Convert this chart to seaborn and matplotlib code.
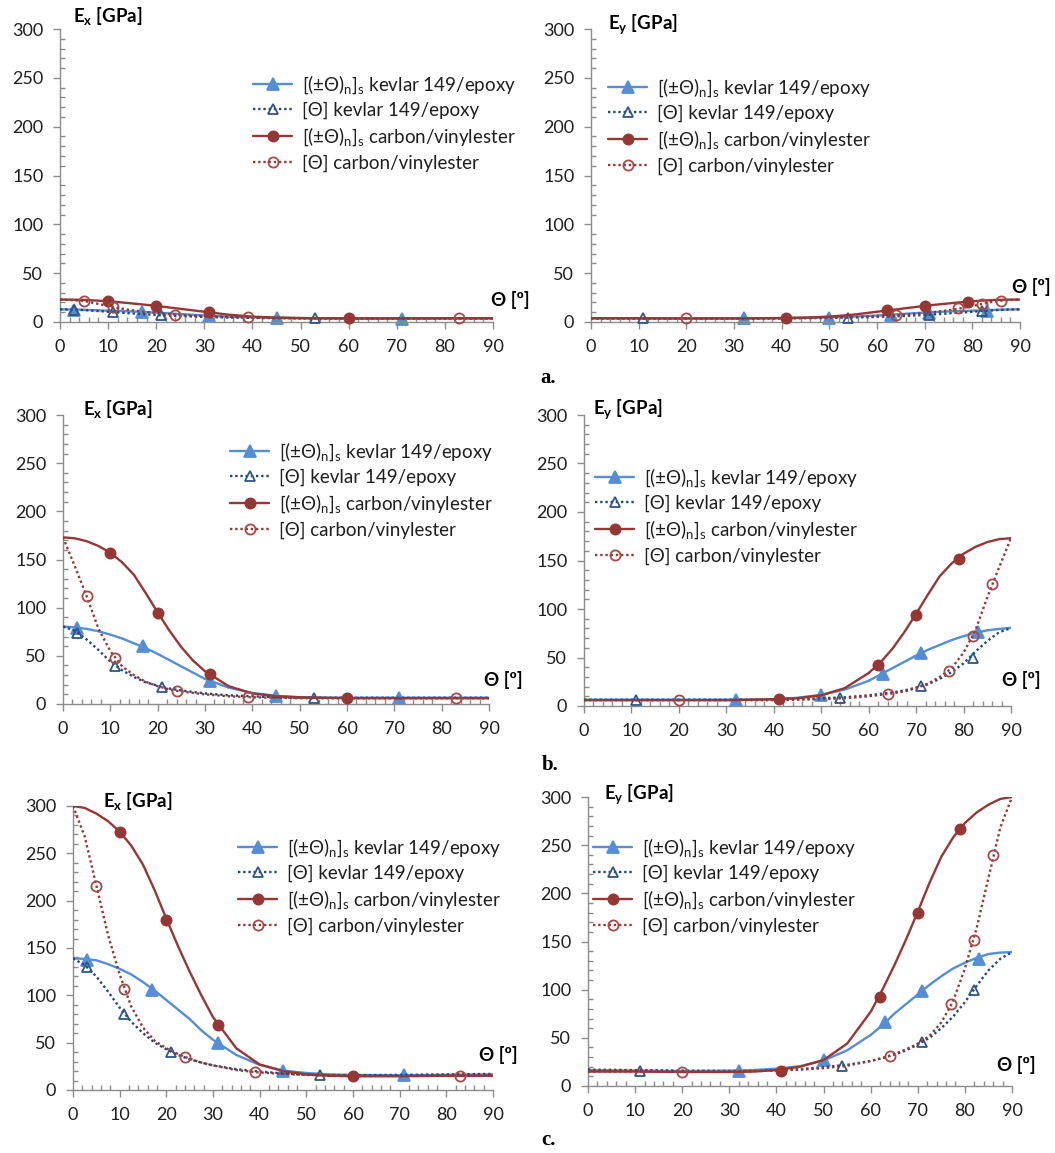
import matplotlib
matplotlib.use("Agg")
import matplotlib.pyplot as plt
import seaborn as sns
import pandas as pd
from matplotlib.lines import Line2D
from matplotlib.ticker import MultipleLocator

# ---------------- data ----------------
theta_x = [0, 2.5, 5, 7.5, 10, 12.5, 15, 17.5, 20, 22.5, 25, 27.5, 30, 35, 40, 45, 50, 55, 60, 70, 80, 90]
theta_y = [0, 10, 20, 30, 35, 40, 45, 50, 55, 60, 62.5, 65, 67.5, 70, 72.5, 75, 77.5, 80, 82.5, 85, 87.5, 90]

# row a  (Ex)
a_ex_kev_pm = [13, 12.8, 12.5, 12, 11.6, 11.2, 10.8, 10.3, 9.6, 8.9, 8.1, 7.4, 6.7, 5.5, 4.8, 4.3, 4, 3.8, 3.7, 3.6, 3.7, 3.8]
a_ex_kev_th = [13, 12.7, 12.2, 11.4, 10.5, 9.6, 8.8, 8, 7.2, 6.6, 6, 5.6, 5.2, 4.6, 4.2, 3.9, 3.7, 3.6, 3.6, 3.6, 3.7, 3.8]
a_ex_car_pm = [23, 22.9, 22.6, 22, 21.3, 20.2, 19, 17.8, 16.5, 15, 13.5, 12, 10.5, 7.5, 5.5, 4.5, 4, 3.8, 3.7, 3.7, 3.8, 3.9]
a_ex_car_th = [23, 22.4, 21.5, 19, 16.3, 14, 12, 10.5, 9.2, 8.2, 7.4, 6.6, 6, 5.2, 4.7, 4.3, 4, 3.9, 3.8, 3.7, 3.7, 3.7]
# row a  (Ey)
a_ey_kev_pm = [3.8, 3.7, 3.6, 3.7, 3.8, 4, 4.3, 4.8, 5.5, 6.7, 7.4, 8.1, 8.9, 9.6, 10.3, 10.8, 11.2, 11.6, 12, 12.5, 12.8, 13]
a_ey_kev_th = [3.8, 3.7, 3.6, 3.6, 3.6, 3.7, 3.9, 4.2, 4.6, 5.2, 5.6, 6, 6.6, 7.2, 8, 8.8, 9.6, 10.5, 11.4, 12.2, 12.7, 13]
a_ey_car_pm = [3.9, 3.8, 3.7, 3.7, 3.8, 4, 4.5, 5.5, 7.5, 10.5, 12, 13.5, 15, 16.5, 17.8, 19, 20.2, 21.3, 22, 22.6, 22.9, 23]
a_ey_car_th = [3.7, 3.7, 3.7, 3.8, 3.9, 4, 4.3, 4.7, 5.2, 6, 6.6, 7.4, 8.2, 9.2, 10.5, 12, 14, 16.3, 19, 21.5, 22.4, 23]

# row b  (Ex)
b_ex_kev_pm = [80.5, 79.5, 78, 75.5, 72, 68, 63, 58, 52, 45.5, 39, 32.5, 26, 17, 11.5, 8.5, 7, 6.5, 6.5, 6.5, 6.5, 6.5]
b_ex_kev_th = [80.5, 76, 67, 56, 44, 35, 28, 22.5, 19, 16, 14, 12.5, 11, 9, 8, 7, 6.5, 6.5, 6.5, 6.5, 6.5, 6.5]
b_ex_car_pm = [173, 172, 169, 164, 157, 147, 134, 115, 95, 76, 59, 45, 34, 18.5, 11, 8, 7, 6.5, 6, 6, 6, 6]
b_ex_car_th = [173, 143, 112, 78, 55, 39, 30, 23, 18.5, 15, 13, 11.5, 10, 8, 7, 6.5, 6, 6, 6, 6, 6, 6]
# row b  (Ey)
b_ey_kev_pm = [6.5, 6.5, 6.5, 6.5, 6.5, 7, 8.5, 11.5, 17, 26, 32.5, 39, 45.5, 52, 58, 63, 68, 72, 75.5, 78, 79.5, 80.5]
b_ey_kev_th = [6.5, 6.5, 6.5, 6.5, 6.5, 6.5, 7, 8, 9, 11, 12.5, 14, 16, 19, 22.5, 28, 35, 44, 56, 67, 76, 80.5]
b_ey_car_pm = [6, 6, 6, 6, 6.5, 7, 8, 11, 18.5, 34, 45, 59, 76, 95, 115, 134, 147, 157, 164, 169, 172, 173]
b_ey_car_th = [6, 6, 6, 6, 6, 6, 6.5, 7, 8, 10, 11.5, 13, 15, 18.5, 23, 30, 39, 55, 78, 112, 143, 173]

# row c  (Ex)
c_ex_kev_pm = [139, 138.5, 137, 133, 128, 122, 114, 105, 95, 85, 75, 63, 53, 37, 26.5, 20.5, 18, 16.5, 16, 15.5, 16, 16.5]
c_ex_kev_th = [139, 132, 120, 104, 87, 72, 60, 50, 43, 37, 32.5, 29, 26, 22, 19.5, 17.5, 16, 15.5, 15.5, 16, 16.5, 17]
c_ex_car_pm = [300, 298, 292, 284, 273, 258, 238, 211, 181, 152, 125, 100, 77, 44, 27, 20, 16.5, 15, 14.5, 14.5, 15, 15]
c_ex_car_th = [300, 268, 216, 164, 122, 88, 66, 52, 44, 38, 33, 29, 26, 21, 18.5, 17, 16, 15.5, 15, 15, 15, 15]
# row c  (Ey)
c_ey_kev_pm = [16.5, 16, 15.5, 16, 16.5, 18, 20.5, 26.5, 37, 53, 63, 75, 85, 95, 105, 114, 122, 128, 133, 137, 138.5, 139]
c_ey_kev_th = [17, 16.5, 16, 15.5, 15.5, 16, 17.5, 19.5, 22, 26, 29, 32.5, 37, 43, 50, 60, 72, 87, 104, 120, 132, 139]
c_ey_car_pm = [15, 15, 14.5, 14.5, 15, 16.5, 20, 27, 44, 77, 100, 125, 152, 181, 211, 238, 258, 273, 284, 292, 298, 300]
c_ey_car_th = [15, 15, 15, 15, 15.5, 16, 17, 18.5, 21, 26, 29, 33, 38, 44, 52, 66, 88, 122, 164, 216, 268, 300]

# marker angles
mx_left_kev_pm = [3, 17, 31, 45, 71]
mx_left_kev_th = [3, 11, 21, 53]
mx_left_car_pm = [10, 20, 31, 60]
mx_left_car_th = [5, 11, 24, 39, 83]
mx_right_kev_pm = [32, 50, 63, 71, 83]
mx_right_kev_th = [11, 54, 71, 82]
mx_right_car_pm = [41, 62, 70, 79]
mx_right_car_th = [20, 64, 77, 82, 86]

# marker values
a_ex_mk_kev_pm = [12.6, 10.5, 6.5, 4.4, 3.4]
a_ex_mk_kev_th = [12.4, 10.1, 7.0, 3.6]
a_ex_mk_car_pm = [21.3, 16.5, 10.0, 3.7]
a_ex_mk_car_th = [21.5, 15.5, 7.6, 4.8, 3.7]
a_ey_mk_kev_pm = [3.6, 4.4, 6.8, 8.9, 11.6]
a_ey_mk_kev_th = [3.6, 3.8, 7.2, 10.9]
a_ey_mk_car_pm = [3.7, 12.0, 16.4, 20.5]
a_ey_mk_car_th = [3.7, 7.5, 14.0, 18.0, 21.8]

b_ex_mk_kev_pm = [79, 60, 24, 8.5, 6.5]
b_ex_mk_kev_th = [74, 39, 17.5, 6.5]
b_ex_mk_car_pm = [157, 94, 31, 6]
b_ex_mk_car_th = [112, 47.5, 13.5, 7, 6]
b_ey_mk_kev_pm = [6.5, 11.5, 33, 55, 76]
b_ey_mk_kev_th = [6.5, 8, 20.5, 50]
b_ey_mk_car_pm = [7, 42, 94, 152]
b_ey_mk_car_th = [6, 12.5, 36, 72, 126]

c_ex_mk_kev_pm = [137, 106, 50, 20.5, 15.5]
c_ex_mk_kev_th = [130, 80, 40.5, 15.5]
c_ex_mk_car_pm = [273, 180, 69, 14.5]
c_ex_mk_car_th = [216, 107, 35, 18.5, 15]
c_ey_mk_kev_pm = [16, 27, 66, 99, 132]
c_ey_mk_kev_th = [16, 21, 46, 100]
c_ey_mk_car_pm = [16, 92, 180, 267]
c_ey_mk_car_th = [15, 31, 85, 152, 240]

series_labels = [
    r"[(±Θ)$_{\rm n}$]$_{\rm s}$ kevlar 149/epoxy",
    r"[Θ] kevlar 149/epoxy",
    r"[(±Θ)$_{\rm n}$]$_{\rm s}$ carbon/vinylester",
    r"[Θ] carbon/vinylester",
]
y_ticks = [0, 50, 100, 150, 200, 250, 300]
x_ticks = [0, 10, 20, 30, 40, 50, 60, 70, 80, 90]
panel_letters = ["a.", "b.", "c."]

# ---------------- style ----------------
sns.set_theme(style="white")
plt.rcParams["font.family"] = ["Lato", "DejaVu Sans"]
plt.rcParams["mathtext.fontset"] = "custom"
plt.rcParams["mathtext.rm"] = "Lato"
plt.rcParams["mathtext.it"] = "Lato:italic"
plt.rcParams["mathtext.bf"] = "Lato:bold"

W, H = 1055, 1153
fig = plt.figure(figsize=(W / 100, H / 100), dpi=100)
fig.patch.set_facecolor("white")

AX_GRAY = "#8C8C8C"
TXT = "#1E1E1E"
FS = 13
LFS = 13.5

styles = [
    dict(color="#558ED5", ls="-", lw=1.7, marker="^", ms=9, mfc="#558ED5", mec="#558ED5"),
    dict(color="#1F497D", ls=(0, (1, 1.2)), lw=1.7, marker="^", ms=7.5, mfc="none", mec="#2E5686"),
    dict(color="#953735", ls="-", lw=1.7, marker="o", ms=7.3, mfc="#953735", mec="#953735"),
    dict(color="#953735", ls=(0, (1, 1.2)), lw=1.7, marker="o", ms=7.3, mfc="none", mec="#A54A48"),
]

# pixel boxes: (left, right, top, bottom)
boxes = {
    ("a", "x"): (60, 493, 29, 322),
    ("a", "y"): (591, 1020, 29, 322),
    ("b", "x"): (63, 489, 415, 704),
    ("b", "y"): (584, 1011, 415, 706),
    ("c", "x"): (73, 493, 806, 1090),
    ("c", "y"): (588, 1012, 797, 1086),
}
title_pos = {
    ("a", "x"): (0.030, 1.045), ("a", "y"): (0.040, 1.016),
    ("b", "x"): (0.047, 1.020), ("b", "y"): (0.021, 1.020),
    ("c", "x"): (0.071, 1.016), ("c", "y"): (0.038, 1.010),
}
theta_pos = {
    ("a", "x"): (1.040, 0.075), ("a", "y"): (1.026, 0.119),
    ("b", "x"): (1.033, 0.083), ("b", "y"): (1.023, 0.089),
    ("c", "x"): (1.012, 0.123), ("c", "y"): (1.009, 0.073),
}
legend_pos = {
    ("a", "x"): (253, 73), ("a", "y"): (608, 76),
    ("b", "x"): (230, 440), ("b", "y"): (595, 466),
    ("c", "x"): (238, 836), ("c", "y"): (593, 836),
}

data = {
    ("a", "x"): ([a_ex_kev_pm, a_ex_kev_th, a_ex_car_pm, a_ex_car_th],
                 [a_ex_mk_kev_pm, a_ex_mk_kev_th, a_ex_mk_car_pm, a_ex_mk_car_th]),
    ("a", "y"): ([a_ey_kev_pm, a_ey_kev_th, a_ey_car_pm, a_ey_car_th],
                 [a_ey_mk_kev_pm, a_ey_mk_kev_th, a_ey_mk_car_pm, a_ey_mk_car_th]),
    ("b", "x"): ([b_ex_kev_pm, b_ex_kev_th, b_ex_car_pm, b_ex_car_th],
                 [b_ex_mk_kev_pm, b_ex_mk_kev_th, b_ex_mk_car_pm, b_ex_mk_car_th]),
    ("b", "y"): ([b_ey_kev_pm, b_ey_kev_th, b_ey_car_pm, b_ey_car_th],
                 [b_ey_mk_kev_pm, b_ey_mk_kev_th, b_ey_mk_car_pm, b_ey_mk_car_th]),
    ("c", "x"): ([c_ex_kev_pm, c_ex_kev_th, c_ex_car_pm, c_ex_car_th],
                 [c_ex_mk_kev_pm, c_ex_mk_kev_th, c_ex_mk_car_pm, c_ex_mk_car_th]),
    ("c", "y"): ([c_ey_kev_pm, c_ey_kev_th, c_ey_car_pm, c_ey_car_th],
                 [c_ey_mk_kev_pm, c_ey_mk_kev_th, c_ey_mk_car_pm, c_ey_mk_car_th]),
}
mk_x = {
    "x": [mx_left_kev_pm, mx_left_kev_th, mx_left_car_pm, mx_left_car_th],
    "y": [mx_right_kev_pm, mx_right_kev_th, mx_right_car_pm, mx_right_car_th],
}

for row in ["a", "b", "c"]:
    for comp in ["x", "y"]:
        l, r, t, b = boxes[(row, comp)]
        ax = fig.add_axes([l / W, 1 - b / H, (r - l) / W, (b - t) / H])
        ax.set_facecolor("white")
        curves, mvals = data[(row, comp)]
        theta = theta_x if comp == "x" else theta_y
        for i, st in enumerate(styles):
            df = pd.DataFrame({"theta": theta, "E": curves[i]})
            sns.lineplot(data=df, x="theta", y="E", ax=ax, color=st["color"],
                         linewidth=st["lw"], linestyle=st["ls"], estimator=None,
                         sort=False, zorder=2 + i)
            ax.plot(mk_x[comp][i], mvals[i], linestyle="none", marker=st["marker"],
                    markersize=st["ms"], markerfacecolor=st["mfc"],
                    markeredgecolor=st["mec"], markeredgewidth=1.3, zorder=2.5 + i,
                    clip_on=False)
        ax.set_xlim(0, 90)
        ax.set_ylim(0, 300)
        ax.set_xticks(x_ticks)
        ax.set_yticks(y_ticks)
        ax.xaxis.set_minor_locator(MultipleLocator(2))
        ax.yaxis.set_minor_locator(MultipleLocator(10))
        ax.set_xlabel("")
        ax.set_ylabel("")
        for s in ["top", "right"]:
            ax.spines[s].set_visible(False)
        for s in ["left", "bottom"]:
            ax.spines[s].set_color(AX_GRAY)
            ax.spines[s].set_linewidth(1.0)
        ax.tick_params(axis="both", which="major", direction="out", length=5,
                       width=1.0, color=AX_GRAY, labelsize=FS, labelcolor=TXT, pad=7)
        ax.tick_params(axis="both", which="minor", direction="in", length=3.5,
                       width=1.0, color=AX_GRAY)
        ax.tick_params(axis="x", which="both", bottom=True)
        ax.tick_params(axis="y", which="both", left=True)
        ax.grid(False)

        tx, ty = title_pos[(row, comp)]
        ax.text(tx, ty, r"E$_{\mathbf{%s}}$ [GPa]" % comp, transform=ax.transAxes,
                ha="left", va="center", fontsize=FS + 0.5, fontweight="bold", color="black")
        px, py = theta_pos[(row, comp)]
        ax.text(px, py, "Θ [º]", transform=ax.transAxes, ha="center", va="center",
                fontsize=FS + 0.5, fontweight="bold", color="black", clip_on=False)

        handles = [Line2D([], [], color=st["color"], linestyle=st["ls"], linewidth=st["lw"],
                          marker=st["marker"], markersize=st["ms"],
                          markerfacecolor=st["mfc"], markeredgecolor=st["mec"],
                          markeredgewidth=1.3) for st in styles]
        lx, ly = legend_pos[(row, comp)]
        ax.legend(handles, series_labels, loc="upper left",
                  bbox_to_anchor=(lx / W, 1 - ly / H), bbox_transform=fig.transFigure,
                  frameon=False, borderpad=0, borderaxespad=0, handlelength=2.1,
                  handletextpad=0.5, labelspacing=0.34, fontsize=LFS, labelcolor=TXT)

letter_pos = [(548, 378), (550, 765), (548, 1140)]
for letter, (x, y) in zip(panel_letters, letter_pos):
    fig.text(x / W, 1 - y / H, letter, ha="center", va="center", fontsize=15,
             fontweight="bold", family="Liberation Serif", color="black")

fig.savefig("out.png", dpi=100, facecolor="white")
